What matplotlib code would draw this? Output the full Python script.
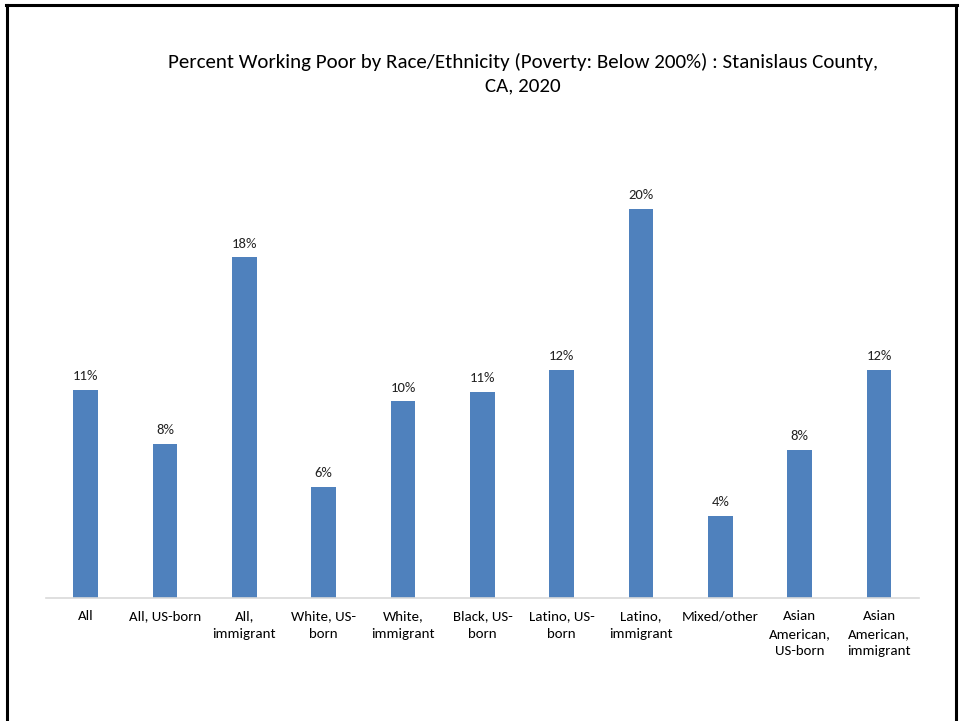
import matplotlib.pyplot as plt
from matplotlib.lines import Line2D

categories = ['All', 'All, US-born', 'All,\nimmigrant', 'White, US-\nborn', 'White,\nimmigrant',
              'Black, US-\nborn', 'Latino, US-\nborn', 'Latino,\nimmigrant', 'Mixed/other',
              'Asian\nAmerican,\nUS-born', 'Asian\nAmerican,\nimmigrant']
values = [10.7, 7.9, 17.5, 5.7, 10.1, 10.6, 11.7, 20.0, 4.2, 7.6, 11.7]

plt.rcParams['font.family'] = ['Carlito', 'Liberation Sans Narrow', 'DejaVu Sans']

fig = plt.figure(figsize=(9.6, 7.21), dpi=100)
ax = fig.add_axes([0.048, 0.1706, 0.909, 0.594])

x = range(len(values))
ax.bar(x, values, width=0.31, color='#4f81bd')
for i, v in enumerate(values):
    ax.text(i, v + 0.4, '%.0f%%' % v, ha='center', va='bottom', fontsize=10.5, color='#222222')

ax.set_xlim(-0.5, len(values) - 0.5)
ax.set_ylim(0, 22)
ax.set_xticks(list(x))
ax.set_xticklabels(categories, fontsize=10.7, linespacing=1.55)
ax.tick_params(axis='x', length=0, pad=9)
ax.set_yticks([])
for s in ['top', 'right', 'left']:
    ax.spines[s].set_visible(False)
ax.spines['bottom'].set_color('#d9d9d9')
ax.spines['bottom'].set_linewidth(1.2)

fig.text(0.545, 0.898, 'Percent Working Poor by Race/Ethnicity (Poverty: Below 200%) : Stanislaus County,\nCA, 2020',
         ha='center', va='center', fontsize=15.1, linespacing=1.5)

# frame around slide
fig.add_artist(Line2D([0.007, 0.007], [0, 0.993], color='black', lw=2.2))
fig.add_artist(Line2D([0.006, 0.997], [0.993, 0.993], color='black', lw=2.2))
fig.add_artist(Line2D([0.996, 0.996], [0, 0.993], color='black', lw=2.2))

fig.savefig('out.png', dpi=100)
